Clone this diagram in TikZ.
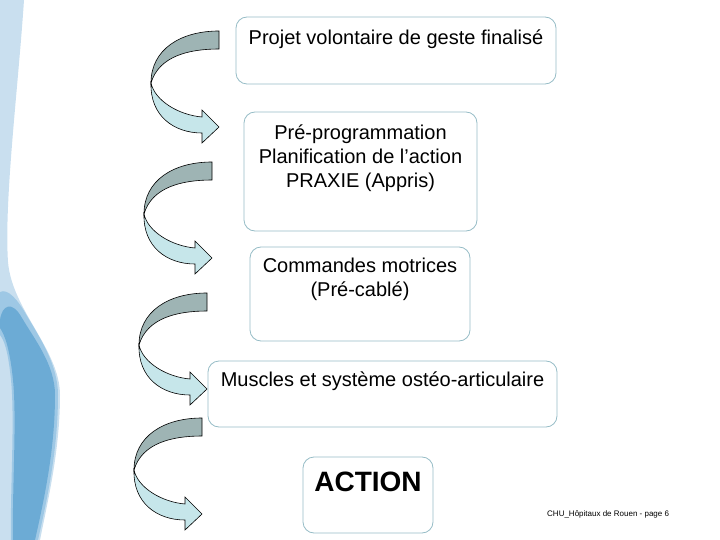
\documentclass[tikz,border=0pt]{standalone}
\usepackage{fontspec}
\setmainfont{Liberation Sans}
\usepackage{xcolor}
\usepackage{tikz}
\usetikzlibrary{positioning}

\definecolor{boxline}{RGB}{150,188,198}
\definecolor{curldark}{RGB}{158,180,180}
\definecolor{curllight}{RGB}{198,230,234}
\definecolor{stripA}{RGB}{201,223,239}
\definecolor{stripB}{RGB}{158,200,229}
\definecolor{stripC}{RGB}{108,171,213}

\begin{document}
\begin{tikzpicture}[x=1pt, y=-1pt,
    stage/.style={rectangle, draw=boxline, line width=0.8pt, rounded corners=11pt, inner sep=0pt},
    stagetext/.style={anchor=north, yshift=-11pt, align=center, inner sep=0pt, font=\fontsize{20}{24}\selectfont, execute at begin node=\strut},
    curl/.pic={
        \filldraw[fill=curllight, draw=black, line width=0.6pt] (-68,52) .. controls (-64,70) and (-40,84) .. (-17,86) -- (-17,79) -- (0,96) -- (-17,112) -- (-17,102) .. controls (-45,102) and (-69,85) .. (-68,52) -- cycle;
        \filldraw[fill=curldark, draw=black, line width=0.6pt] (0,0) -- (0,18) .. controls (-30,18) and (-60,25) .. (-68,52) .. controls (-68,18) and (-38,0) .. (0,0) -- cycle;
    }
]
\useasboundingbox (0,0) rectangle (720,540);

% Left border decoration
\fill[stripA] (0,0) -- (24,0) .. controls (18,90) and (4,200) .. (8,262) .. controls (12,310) and (60,350) .. (60,395) .. controls (60,450) and (48,500) .. (40,540) -- (0,540) -- cycle;
\fill[stripB] (0,292) .. controls (8,288) and (18,300) .. (27,316) .. controls (40,338) and (58,365) .. (58,395) .. controls (58,450) and (47,500) .. (38,540) -- (11,540) .. controls (10,490) and (15,420) .. (11,380) .. controls (8,350) and (4,340) .. (0,335) -- cycle;
\fill[stripC] (0,320) .. controls (2,305) and (12,300) .. (22,318) .. controls (35,340) and (55,365) .. (55,395) .. controls (55,450) and (44,500) .. (35,540) -- (13,540) .. controls (12,490) and (17,420) .. (13,380) .. controls (10,350) and (5,335) .. (0,328) -- cycle;

% Stages
\node[stage, minimum width=320pt, minimum height=67pt] (projet) at (396,50.5) {};
\node[stage, minimum width=233pt, minimum height=119pt] (praxie) at (360.5,171.5) {};
\node[stage, minimum width=220pt, minimum height=94pt] (commandes) at (360,294) {};
\node[stage, minimum width=349pt, minimum height=66pt] (muscles) at (382.5,394) {};
\node[stage, minimum width=130pt, minimum height=76pt] (action) at (368,495) {};

% Stage texts
\node[stagetext] (projettxt) at (projet.north) {Projet volontaire de geste finalisé};
\node[stagetext, yshift=-2pt] (praxietxt) at (praxie.north) {Pré-programmation\\Planification de l’action\\PRAXIE (Appris)};
\node[stagetext] (commandestxt) at (commandes.north) {Commandes motrices\\(Pré-cablé)};
\node[stagetext, yshift=2pt] (musclestxt) at (muscles.north) {Muscles et système ostéo-articulaire};
\node[stagetext, font=\fontsize{28}{34}\selectfont\bfseries] (actiontxt) at (action.north) {ACTION};

% Curved arrows
\coordinate (curl1) at (219,31);
\coordinate (curl2) at (212,162);
\coordinate (curl3) at (207,293);
\coordinate (curl4) at (202,418);
\foreach \c in {curl1,curl2,curl3,curl4}
    \pic at (\c) {curl};

% Footer
\node[anchor=west, inner sep=0pt, font=\fontsize{8}{9.6}\selectfont] (footer) at (547,514) {CHU\_Hôpitaux de Rouen - page 6};

\end{tikzpicture}
\end{document}
